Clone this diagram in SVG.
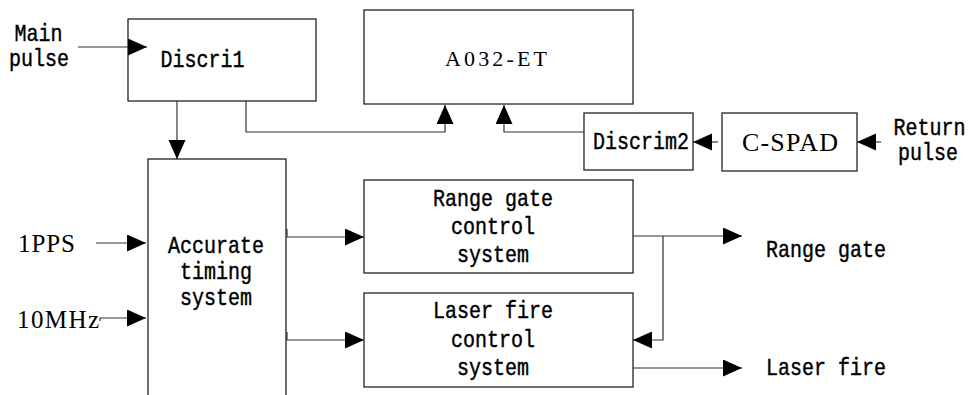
<svg xmlns="http://www.w3.org/2000/svg" width="969" height="395" viewBox="0 0 969 395">
<style>
.box{fill:#fff;stroke:#222;stroke-width:1.3}
.ln{fill:none;stroke:#333;stroke-width:1.2}
.m{font-family:"Liberation Mono","DejaVu Sans Mono",monospace;font-size:20px;fill:#000;stroke:#000;stroke-width:0.35;text-anchor:middle}
.s{font-family:"Liberation Serif","Times New Roman",serif;fill:#000}
</style>
<defs>
<marker id="ah" markerUnits="userSpaceOnUse" markerWidth="20" markerHeight="18" refX="19" refY="8.5" orient="auto" viewBox="0 0 20 18">
<path d="M0,0 L19,8.5 L0,17 Z" fill="#000"/>
</marker>
</defs>
<g id="discri1"><rect class="box" x="128" y="19" width="188" height="82"/><text class="m" transform="translate(202.5,67) scale(1,1.2)">Discri1</text></g>
<g id="a032"><rect class="box" x="364" y="10" width="269" height="94"/><text class="s" x="496" y="66" font-size="22" text-anchor="middle" textLength="102" lengthAdjust="spacing">A032-ET</text></g>
<g id="discrim2"><rect class="box" x="584" y="113" width="109" height="57"/><text class="m" transform="translate(641,149) scale(1,1.2)">Discrim2</text></g>
<g id="cspad"><rect class="box" x="722" y="113" width="135" height="58"/><text class="s" x="790" y="151" font-size="26" text-anchor="middle" textLength="96" lengthAdjust="spacing">C-SPAD</text></g>
<g id="timing"><rect class="box" x="148" y="159" width="138" height="260"/><text class="m" transform="translate(216,253) scale(1,1.2)">Accurate</text><text class="m" transform="translate(216,279) scale(1,1.2)">timing</text><text class="m" transform="translate(216,305) scale(1,1.2)">system</text></g>
<g id="rangectl"><rect class="box" x="364" y="180" width="269" height="93"/><text class="m" transform="translate(493,206) scale(1,1.2)">Range gate</text><text class="m" transform="translate(493,234) scale(1,1.2)">control</text><text class="m" transform="translate(493,262) scale(1,1.2)">system</text></g>
<g id="laserctl"><rect class="box" x="364" y="293" width="269" height="94"/><text class="m" transform="translate(493,318) scale(1,1.2)">Laser fire</text><text class="m" transform="translate(493,347) scale(1,1.2)">control</text><text class="m" transform="translate(493,375) scale(1,1.2)">system</text></g>
<g id="labels">
<text class="m" transform="translate(38.5,41) scale(1,1.2)">Main</text><text class="m" transform="translate(39,66) scale(1,1.2)">pulse</text>
<text class="m" transform="translate(929.5,135) scale(1,1.2)">Return</text><text class="m" transform="translate(928,160) scale(1,1.2)">pulse</text>
<text class="s" x="18" y="252" font-size="25" textLength="57" lengthAdjust="spacing">1PPS</text>
<text class="s" x="17" y="328" font-size="25" textLength="82" lengthAdjust="spacing">10MHz</text>
<text class="m" transform="translate(826,257) scale(1,1.2)">Range gate</text>
<text class="m" transform="translate(826,375) scale(1,1.2)">Laser fire</text>
</g>
<g id="connectors">
<path class="ln" d="M78,47 H147" marker-end="url(#ah)"/>
<path class="ln" d="M177,101 V159" marker-end="url(#ah)"/>
<path class="ln" d="M246,101 V132 H445 V105" marker-end="url(#ah)"/>
<path class="ln" d="M584,132 H504 V105" marker-end="url(#ah)"/>
<path class="ln" d="M718,142 H693" marker-end="url(#ah)"/>
<path class="ln" d="M881,142 H857" marker-end="url(#ah)"/>
<path class="ln" d="M96,243 H146" marker-end="url(#ah)"/>
<path class="ln" d="M100,321 V318 H146" marker-end="url(#ah)"/>
<path class="ln" d="M287,229 V237 H364" marker-end="url(#ah)"/>
<path class="ln" d="M287,332 V340 H364" marker-end="url(#ah)"/>
<path class="ln" d="M633,236 H742" marker-end="url(#ah)"/>
<path class="ln" d="M663,236 V340 H633" marker-end="url(#ah)"/>
<path class="ln" d="M633,368 H742" marker-end="url(#ah)"/>
</g>
</svg>
